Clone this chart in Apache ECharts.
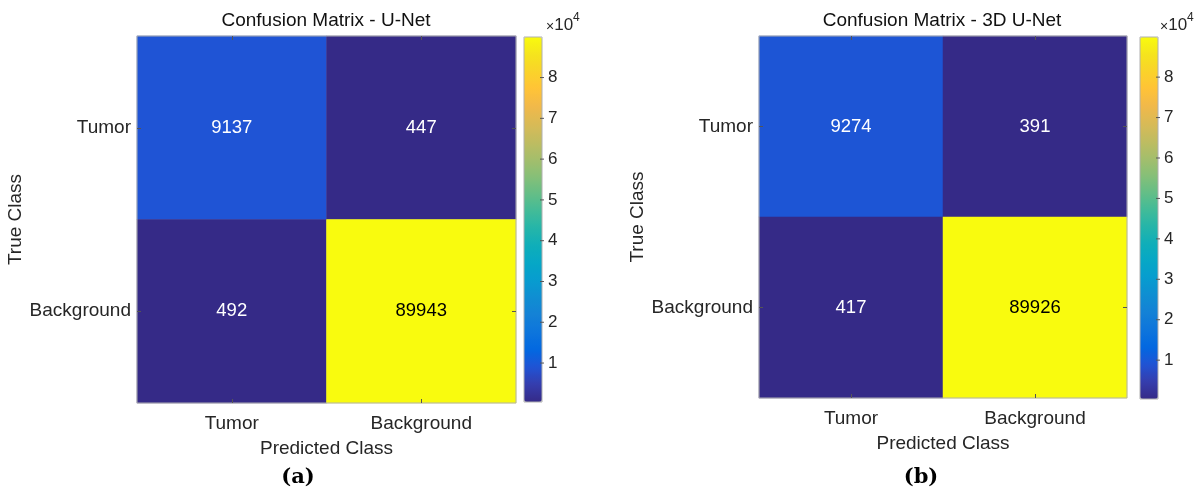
<!DOCTYPE html>
<html>
<head>
<meta charset="utf-8">
<script src="https://cdn.jsdelivr.net/npm/echarts@6/dist/echarts.min.js"></script>
<style>
html,body{margin:0;padding:0;background:#fff;}
#chart{width:1204px;height:492px;}
</style>
</head>
<body>
<div id="chart"></div>
<script>
// ---- data ----
const classes = ['Tumor', 'Background'];
const panelTitles = ['Confusion Matrix - U-Net', 'Confusion Matrix - 3D U-Net'];
const captions = ['(a)', '(b)'];
// rows = true class, columns = predicted class
const unetMatrix = [[9137, 447], [492, 89943]];
const unet3dMatrix = [[9274, 391], [417, 89926]];
const colorbarTicks = [10000, 20000, 30000, 40000, 50000, 60000, 70000, 80000];
const xAxisName = 'Predicted Class';
const yAxisName = 'True Class';

// ---- style ----
const parula = ['#352a87','#353dad','#2053d4','#0268e1','#0d75dc','#1481d6','#108ed2','#079ccf',
  '#06a7c6','#0faeb9','#25b5a9','#42bb98','#65be86','#87bf77','#a5be6b','#c0bc60','#d9ba56',
  '#f1b94a','#ffc337','#fad32a','#f5e41d','#f9fb0e'];
const FONT = '"Liberation Sans", Arial, Helvetica, sans-serif';
const TXT = '#262626';
const BORDER = '#b0b0b0';
const FS = 19;

const panels = [
  { m: unetMatrix, heat: {left: 137, top: 36, width: 379, height: 367}, cb: {left: 524, top: 37, width: 18, height: 365},
    titleX: 326, capX: 298, xmX: 546 },
  { m: unet3dMatrix, heat: {left: 759, top: 36, width: 368, height: 362}, cb: {left: 1140, top: 37, width: 18, height: 362},
    titleX: 942, capX: 921, xmX: 1160 }
];

const grids = [], xAxes = [], yAxes = [], series = [], visualMaps = [], graphics = [];
const catTick = {show: true, inside: true, alignWithLabel: true, length: 4, lineStyle: {color: '#555'}};

panels.forEach((p, k) => {
  const flat = p.m.flat();
  const vmin = Math.min(...flat), vmax = Math.max(...flat);
  const gH = grids.length;
  grids.push(Object.assign({show: true, z: 10, backgroundColor: 'transparent', borderColor: BORDER, borderWidth: 1}, p.heat));
  const gC = grids.length;
  grids.push(Object.assign({show: true, z: 10, backgroundColor: 'transparent', borderColor: BORDER, borderWidth: 1}, p.cb));

  const xi = xAxes.length;
  xAxes.push({
    gridIndex: gH, type: 'category', data: classes, position: 'bottom', z: 11,
    axisLine: {show: false}, splitLine: {show: false}, axisTick: catTick,
    axisLabel: {color: TXT, fontSize: FS, fontFamily: FONT, margin: 11},
    name: xAxisName, nameLocation: 'middle', nameGap: 36,
    nameTextStyle: {color: TXT, fontSize: FS, fontFamily: FONT}
  });
  xAxes.push({
    gridIndex: gH, type: 'category', data: classes, position: 'top', z: 11,
    axisLine: {show: false}, axisLabel: {show: false}, splitLine: {show: false}, axisTick: catTick
  });
  xAxes.push({gridIndex: gC, type: 'value', show: false, min: 0, max: 1});

  const yi = yAxes.length;
  yAxes.push({
    gridIndex: gH, type: 'category', data: classes, inverse: true, position: 'left', z: 11,
    axisLine: {show: false}, splitLine: {show: false}, axisTick: catTick,
    axisLabel: {color: TXT, fontSize: FS, fontFamily: FONT, margin: 6},
    name: yAxisName, nameLocation: 'middle', nameGap: 112, nameRotate: 90,
    nameTextStyle: {color: TXT, fontSize: FS, fontFamily: FONT}
  });
  yAxes.push({
    gridIndex: gH, type: 'category', data: classes, inverse: true, position: 'right', z: 11,
    axisLine: {show: false}, axisLabel: {show: false}, splitLine: {show: false}, axisTick: catTick
  });
  yAxes.push({
    gridIndex: gC, type: 'value', min: vmin, max: vmax, position: 'right', z: 11,
    axisLine: {show: false}, splitLine: {show: false}, axisTick: {show: false},
    axisLabel: {color: TXT, fontSize: 17, fontFamily: FONT, margin: -2, customValues: colorbarTicks,
      formatter: v => '{t|}{n|' + Math.round(v / 10000) + '}',
      rich: {
        t: {width: 4, height: 1, backgroundColor: '#555', verticalAlign: 'middle'},
        n: {fontSize: 17, fontFamily: FONT, color: TXT, padding: [0, 0, 0, 4], verticalAlign: 'middle'}
      }}
  });

  const data = [];
  p.m.forEach((row, i) => row.forEach((v, j) => {
    data.push({value: [j, i, v], label: {color: v > (vmin + vmax) / 2 ? '#000' : '#fff'}});
  }));
  series.push({
    type: 'heatmap', xAxisIndex: xi, yAxisIndex: yi, data: data,
    label: {show: true, fontSize: 18.5, fontFamily: FONT, formatter: q => String(q.value[2])},
    itemStyle: {borderWidth: 0},
    emphasis: {disabled: true}
  });

  visualMaps.push({
    type: 'continuous', seriesIndex: k, min: vmin, max: vmax, calculable: false, hoverLink: false,
    orient: 'vertical', left: p.cb.left, top: p.cb.top, itemWidth: p.cb.width, itemHeight: p.cb.height,
    padding: 0, inRange: {color: parula}, textStyle: {color: TXT}
  });

  graphics.push({
    type: 'text', x: p.titleX, y: 21, z: 20,
    style: {text: panelTitles[k], font: FS + 'px ' + FONT, fill: '#111', textAlign: 'center', textVerticalAlign: 'middle'}
  });
  graphics.push({
    type: 'text', x: p.capX, y: 478, z: 20,
    style: {text: captions[k], font: 'bold 21px "DejaVu Serif", "Liberation Serif", serif', fill: '#000', textAlign: 'center', textVerticalAlign: 'middle'}
  });
  graphics.push({
    type: 'text', x: p.xmX, y: 12, z: 20,
    style: {text: '{x|×}{b|10}{s|4}', textAlign: 'left', textVerticalAlign: 'top',
      rich: {
        x: {fontSize: 14, fontFamily: FONT, fill: TXT, lineHeight: 22, verticalAlign: 'bottom'},
        b: {fontSize: 17, fontFamily: FONT, fill: TXT, lineHeight: 22, verticalAlign: 'bottom'},
        s: {fontSize: 12, fontFamily: FONT, fill: TXT, lineHeight: 22, verticalAlign: 'top'}
      }}
  });
});

const chart = echarts.init(document.getElementById('chart'), null, {renderer: 'canvas'});
chart.setOption({
  animation: false,
  backgroundColor: '#fff',
  tooltip: {show: false},
  grid: grids, xAxis: xAxes, yAxis: yAxes, visualMap: visualMaps, series: series, graphic: graphics
});
</script>
</body>
</html>
